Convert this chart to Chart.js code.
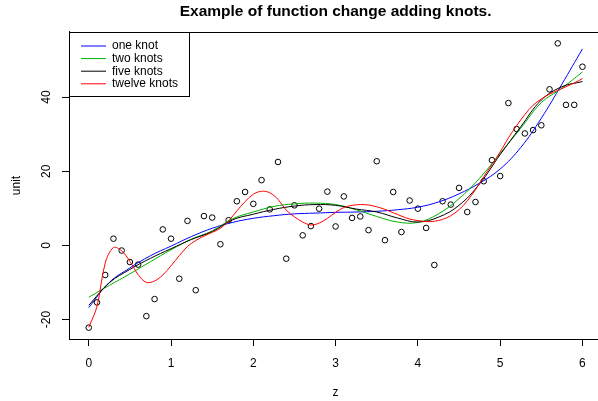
<!DOCTYPE html>
<html><head><meta charset="utf-8">
<script src="https://cdn.jsdelivr.net/npm/chart.js@4.4.1/dist/chart.umd.min.js"></script>
<style>html,body{margin:0;padding:0;overflow:hidden;background:#fff}canvas{display:block}</style>
</head><body>
<canvas id="c" width="606" height="401"></canvas>
<script>
// observed data points
const pointX = [0,0.1,0.2,0.3,0.4,0.5,0.6,0.7,0.8,0.9,1,1.1,1.2,1.3,1.4,1.5,1.6,1.7,1.8,1.9,2,2.1,2.2,2.3,2.4,2.5,2.6,2.7,2.8,2.9,3,3.1,3.2,3.3,3.4,3.5,3.6,3.7,3.8,3.9,4,4.1,4.2,4.3,4.4,4.5,4.6,4.7,4.8,4.9,5,5.1,5.2,5.3,5.4,5.5,5.6,5.7,5.8,5.9,6];
const pointY = [-22.2,-15.4,-8.0,1.8,-1.4,-4.5,-5.2,-19.1,-14.5,4.3,1.8,-9.0,6.6,-12.1,7.9,7.5,0.3,6.8,11.9,14.4,11.2,17.6,9.7,22.5,-3.6,10.8,2.7,5.2,9.9,14.5,5.1,13.2,7.4,7.8,4.1,22.7,1.4,14.4,3.6,12.1,9.9,4.7,-5.3,11.9,11.0,15.5,9.0,11.7,17.3,23.0,18.7,38.4,31.4,30.2,31.1,32.4,42.1,54.5,37.9,37.9,48.2];

// fitted curves
const curveX = [0,0.25,0.5,0.75,1,1.25,1.5,1.75,2,2.25,2.5,2.75,3,3.25,3.5,3.75,4,4.25,4.5,4.75,5,5.25,5.5,5.75,6];
const oneKnot   = [-16.8,-10.0,-6.1,-2.8,-0.2,2.4,4.6,6.2,7.3,8.0,8.5,8.7,8.9,9.0,9.2,9.6,10.3,11.7,13.9,16.8,20.6,26.4,34.3,43.5,53.0];
const twoKnots  = [-14.0,-10.8,-7.7,-4.4,-1.2,1.7,3.9,7.2,9.0,10.5,11.2,11.4,11.0,9.6,7.8,6.3,6.2,8.5,12.6,18.1,24.8,31.6,38.5,42.4,46.8];
const fiveKnots = [-16.2,-10.1,-6.5,-3.5,-0.9,1.6,3.7,6.9,8.4,9.7,10.6,11.0,10.8,9.8,9.0,7.4,6.3,7.6,10.8,16.6,24.5,32.0,39.2,42.8,44.2];
const twelveX = [0,0.1,0.2,0.3,0.4,0.5,0.6,0.7,0.8,0.9,1,1.1,1.2,1.3,1.4,1.5,1.6,1.7,1.8,1.9,2,2.1,2.2,2.3,2.4,2.5,2.6,2.7,2.8,2.9,3,3.1,3.2,3.3,3.4,3.5,3.6,3.7,3.8,3.9,4,4.1,4.2,4.3,4.4,4.5,4.6,4.7,4.8,4.9,5,5.1,5.2,5.3,5.4,5.5,5.6,5.7,5.8,5.9,6];
const twelveKnots = [-22.1,-16.5,-4.8,-0.6,-1.5,-4.3,-7.9,-10.0,-9.6,-8.0,-5.5,-2.8,-0.3,1.3,2.5,3.5,4.6,6.6,9.3,11.8,13.8,14.6,14.2,12.4,9.5,7.7,6.3,5.5,6.0,7.3,8.9,10.2,10.8,11.0,10.9,10.4,9.7,8.8,7.9,7.1,6.7,6.4,6.5,7.0,8.0,9.6,12.0,15.0,18.5,21.8,25.2,29.0,32.3,35.3,37.8,39.5,40.8,41.8,42.8,43.8,45.0];

const seriesNames = ['one knot','two knots','five knots','twelve knots'];
const seriesColors = ['#0000FF','#00B000','#000000','#FF0000'];
const xTicks = [0,1,2,3,4,5,6];
const yTicks = [-20,0,20,40];
const titleText = 'Example of function change adding knots.';
const xTitle = 'z';
const yTitle = 'unit';

const FONT = "'Liberation Sans', Arial, Helvetica, sans-serif";
Chart.defaults.font.family = FONT;
Chart.defaults.color = '#000';

function xy(xs, ys){ return xs.map((x,i)=>({x:x, y:ys[i]})); }

const rBox = {
  id: 'rbox',
  beforeDraw(chart){
    const lg = chart.legend, a = chart.chartArea;
    if (lg){
      lg.left = a.left + 11.4; lg.right = lg.left + 140;
      lg.top = a.top + 7.4; lg.bottom = lg.top + 200;
    }
  },
  afterDraw(chart){
    const {ctx, chartArea:a} = chart;
    ctx.save();
    ctx.strokeStyle = '#000'; ctx.lineWidth = 1;
    const L = Math.round(a.left)+0.5, T = Math.round(a.top)+0.5;
    ctx.strokeRect(L, T, Math.round(a.right - a.left), Math.round(a.bottom - a.top));
    ctx.strokeRect(L, T, 120, 64);
    ctx.restore();
  }
};

const lineDs = (i, xs, ys, tension) => ({
  type:'line', label: seriesNames[i], data: xy(xs, ys),
  borderColor: seriesColors[i], backgroundColor: seriesColors[i],
  pointBorderColor: seriesColors[i], pointBackgroundColor: seriesColors[i],
  borderWidth: 1, pointRadius: 0, pointHoverRadius: 0, tension: tension, fill: false, order: 4 - i
});

new Chart(document.getElementById('c'), {
  type: 'scatter',
  data: { datasets: [
    lineDs(0, curveX, oneKnot, 0.4),
    lineDs(1, curveX, twoKnots, 0.4),
    lineDs(2, curveX, fiveKnots, 0.4),
    lineDs(3, twelveX, twelveKnots, 0.35),
    { type:'scatter', label:'data', data: xy(pointX, pointY), showLine:false,
      pointRadius: 2.8, pointHoverRadius: 2.8, pointBackgroundColor:'rgba(0,0,0,0)',
      pointBorderColor:'#000', pointBorderWidth: 1, order: 5 }
  ]},
  options: {
    responsive: false, animation: false, devicePixelRatio: 1,
    layout: { padding: 0 },
    plugins: {
      title: { display: true, text: titleText, fullSize: false, color:'#000',
        font: { size: 15.5, weight: 'bold' }, padding: { top: 2.7, bottom: 10.7 } },
      legend: { display: true, position: 'chartArea', align: 'start',
        labels: { filter: it => it.datasetIndex < 4, sort: (a, b) => a.datasetIndex - b.datasetIndex,
          usePointStyle: true, pointStyle: 'line',
          pointStyleWidth: 25, boxHeight: 12, font: { size: 12 }, padding: 0.6, color: '#000' } },
      tooltip: { enabled: false }
    },
    scales: {
      x: { type:'linear', min: -0.24, max: 6.24,
        afterBuildTicks: s => { s.ticks = xTicks.map(v => ({value: v})); },
        afterFit: s => { s.height = 62; },
        ticks: { font: { size: 12 }, padding: 10.8, color:'#000', maxRotation: 0, autoSkip: false },
        grid: { display: true, drawOnChartArea: false, drawTicks: true, tickLength: 7, color:'#000' },
        border: { display: true, color:'#000' },
        title: { display: true, text: xTitle, font: { size: 12 }, color:'#000', padding: { top: 0, bottom: 0.8 } }
      },
      y: { type:'linear', position:'left', min: -25.27, max: 57.57,
        afterBuildTicks: s => { s.ticks = yTicks.map(v => ({value: v})); },
        afterFit: s => { s.width = 69; },
        ticks: { font: { size: 12 }, minRotation: 90, maxRotation: 90, crossAlign: 'center', padding: 6.5, color:'#000', autoSkip: false },
        grid: { display: true, drawOnChartArea: false, drawTicks: true, tickLength: 7, color:'#000' },
        border: { display: true, color:'#000' },
        title: { display: true, text: yTitle, font: { size: 12 }, color:'#000', padding: { top: 9.8, bottom: 0 } }
      }
    }
  },
  plugins: [rBox]
});
</script>
</body></html>
